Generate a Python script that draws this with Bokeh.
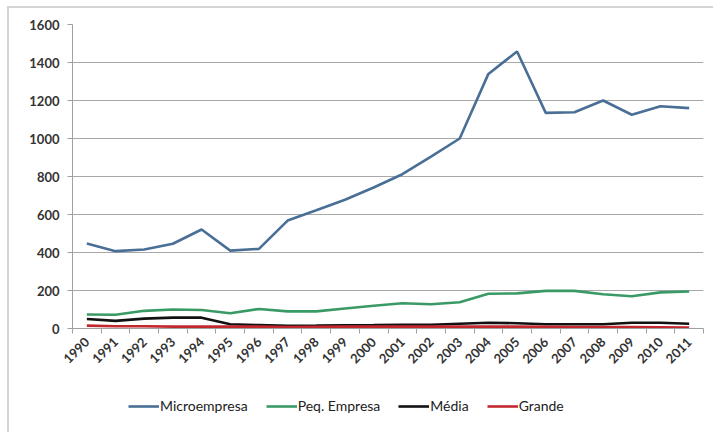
import math
from bokeh.plotting import figure
from bokeh.layouts import column
from bokeh.models import Range1d, FixedTicker, Legend, LegendItem
from bokeh.embed import file_html
from bokeh.resources import INLINE

years = list(range(1990, 2012))
microempresa = [447, 407, 416, 446, 521, 410, 419, 568, 622, 678, 742, 812, 905, 1000,
                1340, 1458, 1135, 1138, 1200, 1125, 1170, 1160]
peq_empresa = [74, 72, 93, 100, 97, 80, 103, 90, 90, 105, 120, 133, 128, 138,
               183, 185, 198, 198, 180, 170, 190, 195]
media = [50, 40, 52, 57, 57, 22, 18, 14, 15, 17, 18, 20, 20, 25,
         30, 28, 22, 22, 22, 30, 30, 25]
grande = [15, 12, 12, 10, 10, 10, 10, 8, 9, 10, 10, 10, 10, 10,
          10, 10, 9, 8, 8, 7, 6, 5]
series_names = ["Microempresa", "Peq. Empresa", "Média", "Grande"]
series_colors = ["#4a6f96", "#3a9a66", "#111111", "#c3282f"]
y_ticks = [0, 200, 400, 600, 800, 1000, 1200, 1400, 1600]

FONT = "Lato"
LW = 2.6
all_series = [microempresa, peq_empresa, media, grande]

p = figure(width=713, height=380, output_backend="svg", toolbar_location=None,
           x_range=Range1d(years[0] - 0.5, years[-1] + 0.5),
           y_range=Range1d(0, 1600),
           min_border_left=72, min_border_right=10, min_border_top=24,
           min_border_bottom=52)
p.outline_line_color = None
p.background_fill_color = "white"
p.border_fill_color = None

for vals, col in zip(all_series, series_colors):
    p.line(years, vals, line_color=col, line_width=LW)

# x axis
p.xaxis.ticker = FixedTicker(ticks=years, minor_ticks=[y - 0.5 for y in years] + [years[-1] + 0.5])
p.xaxis.major_tick_line_color = None
p.xaxis.minor_tick_line_color = "#a0a0a0"
p.xaxis.minor_tick_out = 5
p.xaxis.minor_tick_in = 0
p.xaxis.axis_line_color = "#a0a0a0"
p.xaxis.major_label_orientation = math.pi / 4
p.xaxis.major_label_text_font = FONT
p.xaxis.major_label_text_font_size = "13px"
p.xaxis.major_label_text_font_style = "bold"
p.xaxis.major_label_text_color = "#333333"
p.xaxis.major_label_standoff = 5
p.xgrid.grid_line_color = None

# y axis
p.yaxis.ticker = FixedTicker(ticks=y_ticks)
p.yaxis.minor_tick_line_color = None
p.yaxis.major_tick_line_color = "#a0a0a0"
p.yaxis.major_tick_out = 5
p.yaxis.major_tick_in = 0
p.yaxis.axis_line_color = "#a0a0a0"
p.yaxis.major_label_text_font = FONT
p.yaxis.major_label_text_font_size = "13px"
p.yaxis.major_label_text_font_style = "bold"
p.yaxis.major_label_text_color = "#333333"
p.yaxis.major_label_standoff = 8
p.ygrid.grid_line_color = "#a8a8a8"
p.ygrid.grid_line_width = 1

# legend strip below the chart (its lines sit outside the strip's visible range)
lg = figure(width=713, height=52, output_backend="svg", toolbar_location=None,
            x_axis_type=None, y_axis_type=None,
            x_range=Range1d(0, 1), y_range=Range1d(0, 1),
            min_border_left=0, min_border_right=0, min_border_top=0, min_border_bottom=0)
lg.outline_line_color = None
lg.background_fill_color = None
lg.border_fill_color = None
lg.grid.grid_line_color = None
legend_renderers = [lg.line(years, vals, line_color=col, line_width=LW)
                    for vals, col in zip(all_series, series_colors)]
legend = Legend(items=[LegendItem(label=n, renderers=[r]) for n, r in zip(series_names, legend_renderers)],
                orientation="horizontal", location=(56, 18),
                label_text_font=FONT, label_text_font_size="14px", label_text_color="#222222",
                glyph_width=31, glyph_height=14, label_standoff=1, spacing=18,
                border_line_color=None, background_fill_alpha=0, margin=0, padding=0)
lg.add_layout(legend, "center")

layout = column(p, lg, spacing=0)
layout.styles = {
    "background": "linear-gradient(#d4d4d4, #d4d4d4) 7px 6px / 2px 100% no-repeat, "
                  "linear-gradient(#d4d4d4, #d4d4d4) 7px 6px / 100% 2px no-repeat"
}

open("out.html", "w").write(file_html(layout, INLINE))
